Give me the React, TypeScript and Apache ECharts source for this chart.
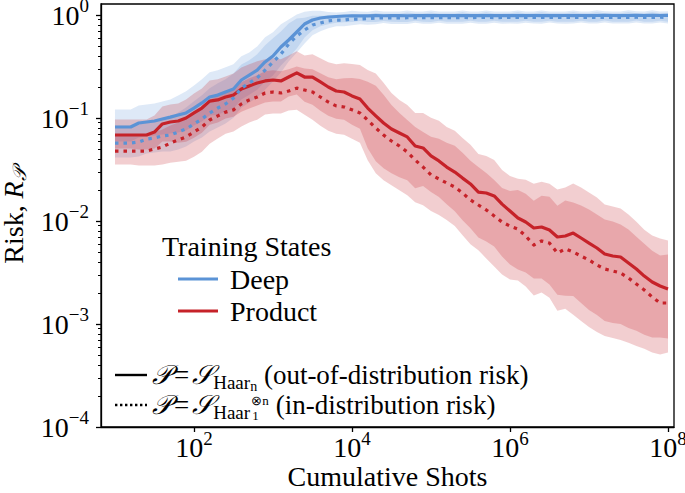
import React, { useEffect, useRef } from "react";
import * as echarts from "echarts";

// ---------------- data ----------------
const shots = [
  1e1, 1.26e1, 1.58e1, 2e1, 2.51e1, 3.16e1, 3.98e1, 5.01e1, 6.31e1, 7.94e1,
  1e2, 1.26e2, 1.58e2, 2e2, 2.51e2, 3.16e2, 3.98e2, 5.01e2, 6.31e2, 7.94e2,
  1e3, 1.26e3, 1.58e3, 2e3, 2.51e3, 3.16e3, 3.98e3, 5.01e3, 6.31e3, 7.94e3,
  1e4, 1.26e4, 1.58e4, 2e4, 2.51e4, 3.16e4, 3.98e4, 5.01e4, 6.31e4, 7.94e4,
  1e5, 1.26e5, 1.58e5, 2e5, 2.51e5, 3.16e5, 3.98e5, 5.01e5, 6.31e5, 7.94e5,
  1e6, 1.26e6, 1.58e6, 2e6, 2.51e6, 3.16e6, 3.98e6, 5.01e6, 6.31e6, 7.94e6,
  1e7, 1.26e7, 1.58e7, 2e7, 2.51e7, 3.16e7, 3.98e7, 5.01e7, 6.31e7, 7.94e7,
  1e8,
];

const deepSolid = [
  0.0818, 0.0818, 0.0818, 0.0894, 0.0915, 0.0935, 0.0978, 0.102, 0.107, 0.112,
  0.125, 0.14, 0.16, 0.167, 0.179, 0.191, 0.234, 0.261, 0.292, 0.35,
  0.4, 0.489, 0.572, 0.684, 0.818, 0.894, 0.935, 0.956, 0.967, 0.978,
  0.981, 0.984, 0.983, 0.985, 0.984, 0.986, 0.985, 0.984, 0.986, 0.987,
  0.985, 0.986, 0.987, 0.986, 0.987, 0.988, 0.986, 0.987, 0.988, 0.987,
  0.988, 0.987, 0.988, 0.989, 0.988, 0.987, 0.988, 0.989, 0.988, 0.989,
  0.988, 0.989, 0.99, 0.989, 0.988, 0.989, 0.99, 0.989, 0.99, 0.989,
  0.99,
];

const deepDotted = [
  0.0571, 0.0571, 0.0571, 0.0585, 0.0625, 0.064, 0.0669, 0.0684, 0.0731, 0.0782,
  0.0875, 0.0978, 0.112, 0.125, 0.137, 0.156, 0.195, 0.219, 0.245, 0.292,
  0.35, 0.418, 0.523, 0.625, 0.715, 0.8, 0.836, 0.875, 0.894, 0.894,
  0.914, 0.914, 0.925, 0.935, 0.937, 0.94, 0.938, 0.941, 0.943, 0.942,
  0.944, 0.943, 0.945, 0.944, 0.946, 0.945, 0.946, 0.947, 0.945, 0.946,
  0.948, 0.947, 0.946, 0.948, 0.947, 0.949, 0.948, 0.947, 0.949, 0.948,
  0.95, 0.949, 0.948, 0.95, 0.949, 0.95, 0.951, 0.95, 0.949, 0.951,
  0.95,
];

const productSolid = [
  0.0684, 0.0684, 0.0684, 0.0684, 0.0684, 0.0731, 0.0875, 0.0915, 0.0935, 0.1,
  0.112, 0.125, 0.146, 0.15, 0.16, 0.167, 0.191, 0.205, 0.219, 0.229,
  0.234, 0.229, 0.25, 0.274, 0.25, 0.25, 0.224, 0.2, 0.183, 0.179,
  0.164, 0.153, 0.125, 0.105, 0.0894, 0.0782, 0.0715, 0.0655, 0.0535, 0.0512,
  0.0428, 0.0383, 0.0334, 0.0299, 0.0261, 0.0229, 0.0191, 0.0187, 0.0175, 0.0146,
  0.0125, 0.0107, 0.00978, 0.00855, 0.00875, 0.00818, 0.007, 0.00715, 0.00764, 0.00684,
  0.00611, 0.00547, 0.00479, 0.00457, 0.00447, 0.00391, 0.00342, 0.00292, 0.00256, 0.00234,
  0.00219,
];

const productDotted = [
  0.0478, 0.0478, 0.0478, 0.0478, 0.0478, 0.05, 0.0523, 0.0571, 0.0611, 0.0655,
  0.0731, 0.0818, 0.0957, 0.105, 0.114, 0.12, 0.137, 0.15, 0.16, 0.175,
  0.179, 0.175, 0.183, 0.195, 0.187, 0.179, 0.16, 0.143, 0.131, 0.128,
  0.12, 0.112, 0.0957, 0.08, 0.0684, 0.0598, 0.0535, 0.0468, 0.0391, 0.0334,
  0.028, 0.0256, 0.0234, 0.0214, 0.0187, 0.016, 0.0143, 0.0128, 0.0112, 0.00978,
  0.00894, 0.00836, 0.00715, 0.00585, 0.0064, 0.00611, 0.00489, 0.00535, 0.005, 0.00457,
  0.00418, 0.00374, 0.00342, 0.00327, 0.00313, 0.0028, 0.00244, 0.00214, 0.00183, 0.0016,
  0.0016,
];

// shaded spread around each curve, in decades (upper / lower)
const deepUp = [
  0.17, 0.17, 0.17, 0.17, 0.17, 0.17, 0.17, 0.17, 0.19, 0.21,
  0.22, 0.23, 0.24, 0.24, 0.24, 0.24, 0.23, 0.22, 0.23, 0.24,
  0.23, 0.22, 0.2, 0.17, 0.12, 0.09, 0.07, 0.05, 0.04, 0.04,
  0.05, 0.04, 0.04, 0.05, 0.04, 0.04, 0.04, 0.05, 0.04, 0.04,
  0.05, 0.04, 0.04, 0.04, 0.05, 0.04, 0.04, 0.05, 0.04, 0.04,
  0.04, 0.05, 0.04, 0.04, 0.05, 0.04, 0.04, 0.04, 0.05, 0.04,
  0.04, 0.05, 0.04, 0.04, 0.04, 0.05, 0.04, 0.04, 0.05, 0.04,
  0.04,
];
const deepLow = [
  0.14, 0.14, 0.14, 0.14, 0.14, 0.14, 0.15, 0.16, 0.17, 0.17,
  0.17, 0.18, 0.18, 0.19, 0.19, 0.19, 0.19, 0.19, 0.19, 0.19,
  0.19, 0.18, 0.17, 0.16, 0.13, 0.1, 0.08, 0.07, 0.06, 0.06,
  0.06, 0.05, 0.06, 0.06, 0.05, 0.06, 0.06, 0.06, 0.05, 0.06,
  0.06, 0.05, 0.06, 0.06, 0.06, 0.05, 0.06, 0.06, 0.05, 0.06,
  0.06, 0.06, 0.05, 0.06, 0.06, 0.05, 0.06, 0.06, 0.06, 0.05,
  0.06, 0.06, 0.05, 0.06, 0.06, 0.06, 0.05, 0.06, 0.06, 0.05,
  0.06,
];
const productUp = [
  0.15, 0.15, 0.15, 0.15, 0.15, 0.16, 0.17, 0.17, 0.17, 0.18,
  0.19, 0.19, 0.2, 0.2, 0.2, 0.21, 0.21, 0.21, 0.21, 0.21,
  0.21, 0.21, 0.21, 0.21, 0.21, 0.22, 0.23, 0.24, 0.26, 0.28,
  0.31, 0.33, 0.37, 0.41, 0.39, 0.35, 0.32, 0.31, 0.32, 0.34,
  0.37, 0.39, 0.39, 0.4, 0.39, 0.38, 0.37, 0.36, 0.35, 0.33,
  0.34, 0.38, 0.41, 0.43, 0.44, 0.45, 0.46, 0.47, 0.48, 0.49,
  0.49, 0.49, 0.48, 0.48, 0.47, 0.47, 0.46, 0.45, 0.45, 0.46,
  0.47,
];
const productLow = [
  0.13, 0.13, 0.13, 0.14, 0.14, 0.16, 0.17, 0.19, 0.21, 0.23,
  0.24, 0.24, 0.23, 0.22, 0.21, 0.21, 0.22, 0.22, 0.22, 0.21,
  0.21, 0.2, 0.19, 0.21, 0.24, 0.27, 0.28, 0.28, 0.27, 0.27,
  0.28, 0.29, 0.39, 0.44, 0.44, 0.43, 0.43, 0.42, 0.41, 0.37,
  0.35, 0.35, 0.36, 0.38, 0.41, 0.43, 0.44, 0.47, 0.49, 0.51,
  0.52, 0.5, 0.49, 0.49, 0.5, 0.53, 0.56, 0.58, 0.61, 0.63,
  0.65, 0.65, 0.65, 0.65, 0.65, 0.63, 0.6, 0.57, 0.54, 0.5,
  0.48,
];

const xTickExps = [2, 4, 6, 8];
const yTickExps = [-4, -3, -2, -1, 0];
const minorMantissas = [2, 3, 4, 5, 6, 7, 8, 9];

// ---------------- styling ----------------
const FONT = '"Liberation Serif", "Times New Roman", Times, serif';
const BLUE = "#5b93d6";
const RED = "#c62229";
const BLUE_BAND = "rgba(91,147,214,0.2)";
const RED_BAND = "rgba(198,34,41,0.22)";
const X_MIN = 0.823;
const X_MAX = 8.076;
const Y_MIN = -4;
const Y_MAX = 0.107;
const CAL_P = "\u{1D4AB}";
const CAL_S = "\u{1D4AE}";

const lg = (v: number) => Math.log10(v);
const at = (a: number[], i: number) => a[Math.min(i, a.length - 1)];
const pts = (vals: number[]) => shots.map((s, i) => [lg(s), lg(at(vals, i))]);

function band(id: string, line: number[], up: number[], low: number[], color: string) {
  const data = shots.map((s, i) => [
    lg(s),
    lg(at(line, i)) - at(low, i),
    lg(at(line, i)) + at(up, i),
  ]);
  return {
    type: "custom",
    name: id,
    silent: true,
    z: 1,
    clip: true,
    data,
    encode: { x: 0, y: [1, 2] },
    renderItem: (params: any, api: any) => {
      if (params.dataIndex !== 0) return null;
      const top = data.map((d) => api.coord([d[0], d[2]]));
      const bottom = data.map((d) => api.coord([d[0], d[1]])).reverse();
      return {
        type: "polygon",
        shape: { points: top.concat(bottom) },
        style: { fill: color, stroke: "none" },
      };
    },
  };
}

function curve(name: string, vals: number[], color: string, dotted: boolean) {
  return {
    type: "line",
    name,
    data: pts(vals),
    symbol: "none",
    showSymbol: false,
    silent: true,
    z: 3,
    itemStyle: { color },
    lineStyle: {
      color,
      width: 3.2,
      type: dotted ? [3.5, 5] : "solid",
      cap: "butt",
      join: "round",
    },
  };
}

const expText = (v: number) => (v < 0 ? "\u2212" + Math.abs(v) : String(v));

const tickRich = {
  b: { fontFamily: FONT, fontSize: 28, color: "#000", lineHeight: 22 },
  s: { fontFamily: FONT, fontSize: 19, color: "#000", lineHeight: 2, padding: [0, 0, 19, 0] },
};

const minorTicks: number[] = [];
for (let e = -4; e < 0; e++) {
  for (const m of minorMantissas) minorTicks.push(e + lg(m));
}

const legendRich = {
  c: { fontFamily: FONT, fontSize: 27, color: "#000", lineHeight: 30, fontStyle: "italic" },
  eq: { fontFamily: FONT, fontSize: 27, color: "#000", lineHeight: 30, padding: [0, 3, 0, 3] },
  s: { fontFamily: FONT, fontSize: 19, color: "#000", lineHeight: 10, padding: [14, 0, 0, 0] },
  m: { fontFamily: FONT, fontSize: 27, color: "#000", lineHeight: 30 },
  ss: { fontFamily: FONT, fontSize: 14, color: "#000", lineHeight: 8, padding: [22, 0, 0, 0] },
};

function measure(text: string, font: string) {
  const ctx = document.createElement("canvas").getContext("2d");
  if (!ctx) return text.length * 10;
  ctx.font = font;
  return ctx.measureText(text).width;
}

function buildOption() {
  const rowX = 152;
  const row1Y = 375;
  const row2Y = 405;
  // width of the "P = S_Haar" prefix of the second row, to place the stacked scripts
  const prefixW =
    measure(CAL_P, `italic 27px ${FONT}`) +
    measure("=", `27px ${FONT}`) + 6 +
    measure(CAL_S, `italic 27px ${FONT}`) +
    measure("Haar", `19px ${FONT}`);
  const scriptW = measure("\u2297n", `13px ${FONT}`);
  const scriptX = rowX + prefixW + 1;
  const restX = scriptX + scriptW + 7;

  return {
    animation: false,
    backgroundColor: "#fff",
    grid: {
      left: 101,
      right: 11,
      top: 4,
      bottom: 66,
      show: true,
      borderColor: "#000",
      borderWidth: 1.3,
      backgroundColor: "transparent",
      containLabel: false,
      outerBoundsMode: "none",
    },
    xAxis: {
      type: "value",
      min: X_MIN,
      max: X_MAX,
      axisLine: { show: true, onZero: false, lineStyle: { color: "#000", width: 1.3 } },
      axisTick: { show: true, customValues: xTickExps, length: 5, lineStyle: { color: "#000", width: 1.3 } },
      axisLabel: {
        show: true,
        customValues: xTickExps,
        margin: 9.5,
        formatter: (v: number) => `{b|10}{s|${expText(v)}}`,
        rich: tickRich,
        hideOverlap: false,
      },
      splitLine: { show: false },
      name: "Cumulative Shots",
      nameLocation: "middle",
      nameGap: 38,
      nameMoveOverlap: false,
      nameTextStyle: { fontFamily: FONT, fontSize: 28, color: "#000", lineHeight: 22 },
    },
    yAxis: [
      {
        type: "value",
        min: Y_MIN,
        max: Y_MAX,
        position: "left",
        axisLine: { show: true, onZero: false, lineStyle: { color: "#000", width: 1.3 } },
        axisTick: { show: true, customValues: yTickExps, length: 5, lineStyle: { color: "#000", width: 1.3 } },
        axisLabel: {
          show: true,
          customValues: yTickExps,
          margin: 12,
          formatter: (v: number) => `{b|10}{s|${expText(v)}}`,
          rich: tickRich,
        },
        splitLine: { show: false },
        name: `Risk, {i|R}{p|${CAL_P}}`,
        nameLocation: "middle",
        nameRotate: 90,
        nameGap: 77,
        nameMoveOverlap: false,
        nameTextStyle: {
          fontFamily: FONT,
          fontSize: 28,
          color: "#000",
          lineHeight: 22,
          rich: {
            i: { fontFamily: FONT, fontSize: 28, fontStyle: "italic", color: "#000", lineHeight: 22 },
            p: { fontFamily: FONT, fontSize: 19, fontStyle: "italic", color: "#000", lineHeight: 8, padding: [13, 0, 0, 0] },
          },
        },
      },
      {
        type: "value",
        min: Y_MIN,
        max: Y_MAX,
        position: "left",
        offset: 0,
        axisLine: { show: false, onZero: false },
        axisTick: { show: true, customValues: minorTicks, length: 3, lineStyle: { color: "#000", width: 1 } },
        axisLabel: { show: false },
        splitLine: { show: false },
      },
    ],
    legend: {
      show: true,
      data: ["Deep", "Product"],
      orient: "vertical",
      left: 178,
      top: 265,
      padding: 0,
      icon: "rect",
      itemWidth: 40,
      itemHeight: 3.2,
      itemGap: 4,
      selectedMode: false,
      textStyle: { fontFamily: FONT, fontSize: 28, color: "#000", lineHeight: 28, padding: [0, 0, 0, 7] },
    },
    graphic: [
      {
        type: "text",
        x: 162,
        y: 246,
        silent: true,
        style: { text: "Training States", fontFamily: FONT, fontSize: 28, fill: "#000", align: "left", verticalAlign: "middle" },
      },
      {
        type: "line",
        silent: true,
        shape: { x1: 115, y1: row1Y, x2: 147, y2: row1Y },
        style: { stroke: "#000", lineWidth: 2.4 },
      },
      {
        type: "line",
        silent: true,
        shape: { x1: 115, y1: row2Y, x2: 147, y2: row2Y },
        style: { stroke: "#000", lineWidth: 2.4, lineDash: [2.4, 2.6] },
      },
      {
        type: "text",
        x: rowX,
        y: row1Y,
        silent: true,
        style: {
          text: `{c|${CAL_P}}{eq|=}{c|${CAL_S}}{s|Haar}{ss|n}{m| (out-of-distribution risk)}`,
          fontFamily: FONT,
          fontSize: 27,
          fill: "#000",
          align: "left",
          verticalAlign: "middle",
          rich: legendRich,
        },
      },
      {
        type: "text",
        x: rowX,
        y: row2Y,
        silent: true,
        style: {
          text: `{c|${CAL_P}}{eq|=}{c|${CAL_S}}{s|Haar}`,
          fontFamily: FONT,
          fontSize: 27,
          fill: "#000",
          align: "left",
          verticalAlign: "middle",
          rich: legendRich,
        },
      },
      {
        type: "text",
        x: scriptX,
        y: row2Y - 5,
        silent: true,
        style: {
          text: "\u2297n",
          fontFamily: FONT,
          fontSize: 13,
          lineHeight: 10,
          fill: "#000",
          align: "left",
          verticalAlign: "middle",
        },
      },
      {
        type: "text",
        x: scriptX + 1,
        y: row2Y + 10,
        silent: true,
        style: {
          text: "1",
          fontFamily: FONT,
          fontSize: 13,
          lineHeight: 10,
          fill: "#000",
          align: "left",
          verticalAlign: "middle",
        },
      },
      {
        type: "text",
        x: restX,
        y: row2Y,
        silent: true,
        style: {
          text: "(in-distribution risk)",
          fontFamily: FONT,
          fontSize: 27,
          fill: "#000",
          align: "left",
          verticalAlign: "middle",
        },
      },
    ],
    series: [
      band("deepSolidBand", deepSolid, deepUp, deepLow, BLUE_BAND),
      band("deepDottedBand", deepDotted, deepUp, deepLow, BLUE_BAND),
      band("productSolidBand", productSolid, productUp, productLow, RED_BAND),
      band("productDottedBand", productDotted, productUp, productLow, RED_BAND),
      curve("Product", productSolid, RED, false),
      curve("Product (in-distribution)", productDotted, RED, true),
      curve("Deep", deepSolid, BLUE, false),
      curve("Deep (in-distribution)", deepDotted, BLUE, true),
    ],
  };
}

export default function App() {
  const ref = useRef<HTMLDivElement>(null);
  useEffect(() => {
    if (!ref.current) return;
    const chart = echarts.init(ref.current, null, { renderer: "svg" });
    chart.setOption(buildOption() as any);
    return () => chart.dispose();
  }, []);
  return (
    <div
      ref={ref}
      style={{ position: "absolute", left: 0, top: 0, width: 685, height: 493, background: "#fff" }}
    />
  );
}
